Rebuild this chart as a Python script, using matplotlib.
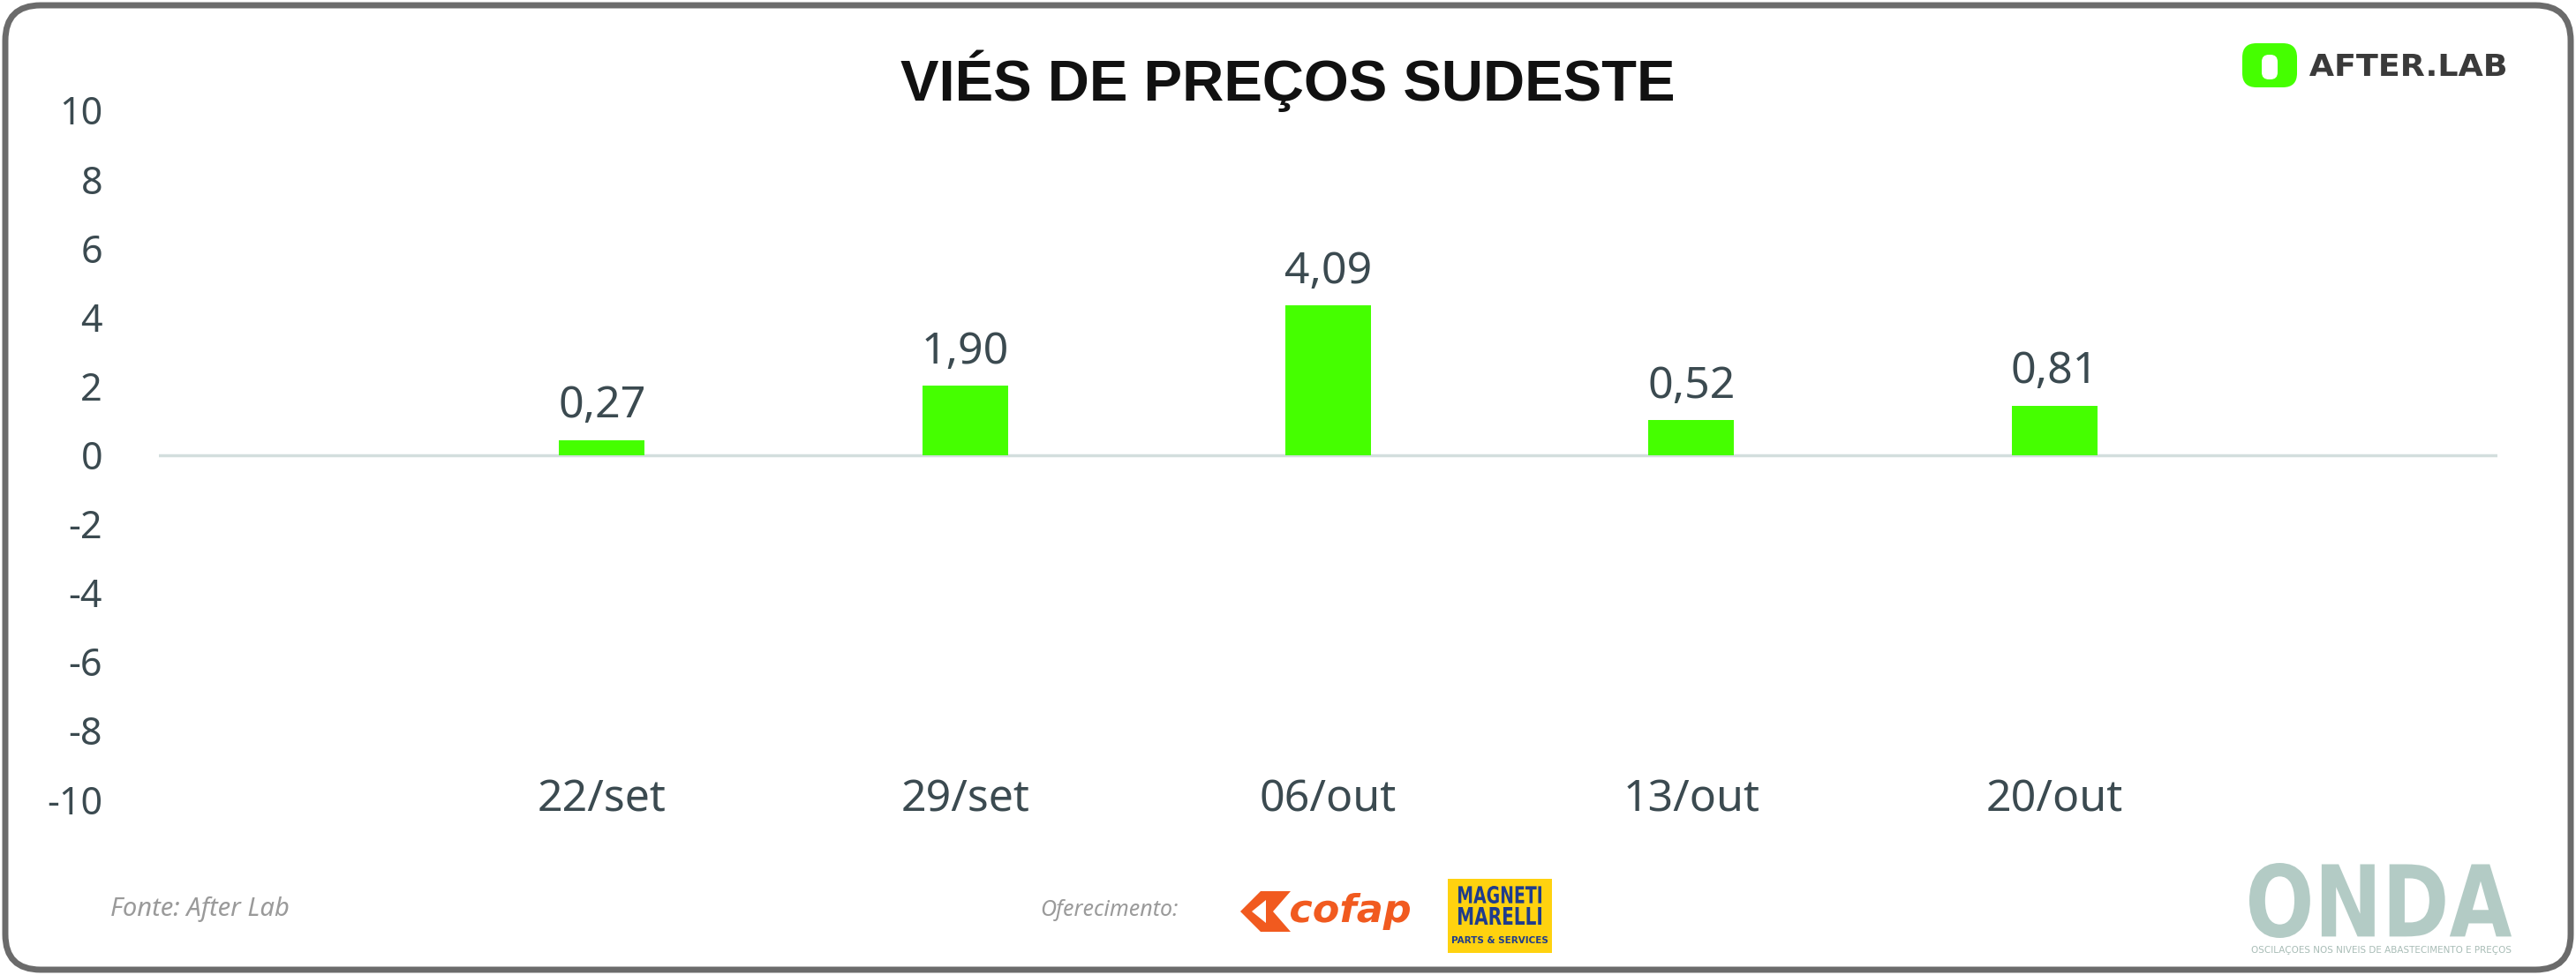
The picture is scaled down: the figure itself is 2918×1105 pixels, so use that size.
import matplotlib.pyplot as plt
from matplotlib.patches import FancyBboxPatch, Polygon, Rectangle, PathPatch
from matplotlib.textpath import TextPath
from matplotlib.font_manager import FontProperties
from matplotlib.transforms import blended_transform_factory, Affine2D

# dados do gráfico
semanas = ['22/set', '29/set', '06/out', '13/out', '20/out']
alturas_barras = [0.42, 2.0, 4.33, 1.0, 1.42]   # altura desenhada das barras
rotulos_valores = ['0,27', '1,90', '4,09', '0,52', '0,81']
ticks_y = [-10, -8, -6, -4, -2, 0, 2, 4, 6, 8, 10]

verde = '#45ff00'
texto = '#3b4a50'
W, H = 2918, 1105

fig = plt.figure(figsize=(W / 100, H / 100), dpi=100)
fig.patch.set_facecolor('white')

# camada de fundo em pixels para moldura e logos
bg = fig.add_axes([0, 0, 1, 1])
bg.set_xlim(0, W)
bg.set_ylim(H, 0)
bg.axis('off')

bg.add_patch(FancyBboxPatch((6, 6), W - 12, H - 12, boxstyle='round,pad=0,rounding_size=40',
                            fill=False, ec='#6b6b6b', lw=5))


def texto_na_caixa(s, x0, x1, y_topo, y_base, cor, estilo='normal'):
    # desenha o texto esticado para caber na caixa (x0..x1, topo..base)
    tp = TextPath((0, 0), s, size=1,
                  prop=FontProperties(family='DejaVu Sans', weight='bold', style=estilo))
    ext = tp.get_extents()
    sx = (x1 - x0) / ext.width
    sy = (y_base - y_topo) / ext.height
    tr = Affine2D().translate(-ext.x0, -ext.y0).scale(sx, -sy).translate(x0, y_base)
    bg.add_patch(PathPatch(tr.transform_path(tp), fc=cor, ec='none'))


# título
bg.text(W / 2, 92, 'VIÉS DE PREÇOS SUDESTE', ha='center', va='center', fontsize=47,
        fontweight='bold', family=['Liberation Sans', 'DejaVu Sans'], color='#111111')

# logo After Lab
bg.add_patch(FancyBboxPatch((2540, 49), 62, 50, boxstyle='round,pad=0,rounding_size=16',
                            fc=verde, ec='none'))
bg.add_patch(FancyBboxPatch((2562, 62), 18, 28, boxstyle='round,pad=0,rounding_size=8',
                            fc='white', ec='none'))
texto_na_caixa('AFTER.LAB', 2616, 2838, 61, 86, '#3a3a3a')

# rodapé
bg.text(125, 1030, 'Fonte: After Lab', ha='left', va='center', fontsize=21, style='italic',
        color='#9a9a9a', family='Noto Sans')
bg.text(1178, 1032, 'Oferecimento:', ha='left', va='center', fontsize=18, style='italic',
        color='#9a9a9a', family='Noto Sans')

# logo cofap
laranja = '#f15a1f'
bg.add_patch(Polygon([(1405, 1033), (1428, 1010), (1462, 1010), (1442, 1033),
                      (1462, 1056), (1428, 1056)], closed=True, fc=laranja, ec='none'))
bg.add_patch(Polygon([(1418, 1033), (1434, 1020), (1434, 1046)], closed=True, fc='white', ec='none'))
texto_na_caixa('cofap', 1462, 1597, 1012, 1054, laranja, estilo='italic')

# logo Magneti Marelli
bg.add_patch(Rectangle((1640, 996), 118, 84, fc='#ffd20f', ec='none'))
texto_na_caixa('MAGNETI', 1652, 1746, 1004, 1024, '#1f3c8c')
texto_na_caixa('MARELLI', 1652, 1746, 1028, 1048, '#1f3c8c')
bg.text(1699, 1066, 'PARTS & SERVICES', ha='center', va='center', fontsize=7.5, fontweight='bold',
        color='#1f3c8c', family='DejaVu Sans')

# logo ONDA
texto_na_caixa('ONDA', 2548, 2845, 978, 1063, '#b3cbc5')
bg.text(2697, 1077, 'OSCILAÇOES NOS NIVEIS DE ABASTECIMENTO E PREÇOS', ha='center', va='center',
        fontsize=7.5, color='#a9bdb7', family='DejaVu Sans')

# gráfico de barras
ax = fig.add_axes([180 / W, 199 / H, (2829 - 180) / W, (906 - 125) / H])
ax.patch.set_alpha(0)
x = list(range(len(semanas)))
ax.bar(x, alturas_barras, width=0.236, color=verde, zorder=3)
ax.axhline(0, color='#d3dedd', lw=2.5, zorder=2)

for xi, h, rot in zip(x, alturas_barras, rotulos_valores):
    ax.annotate(rot, (xi, h), xytext=(0, 10), textcoords='offset points', ha='center', va='bottom',
                fontsize=36, color=texto, family='Noto Sans')

tr = blended_transform_factory(ax.transData, ax.transAxes)
for xi, s in zip(x, semanas):
    ax.text(xi, 0.0, s, transform=tr, ha='center', va='center', fontsize=36, color=texto,
            family='Noto Sans')

ax.set_xlim(-1.22, 5.22)
ax.set_ylim(-10, 10)
ax.set_yticks(ticks_y)
ax.set_yticklabels([str(t) for t in ticks_y], fontsize=31, color=texto, family='Noto Sans')
ax.set_xticks([])
ax.tick_params(axis='y', length=0, pad=46)
for s in ax.spines.values():
    s.set_visible(False)

fig.savefig('out.png', dpi=100)
